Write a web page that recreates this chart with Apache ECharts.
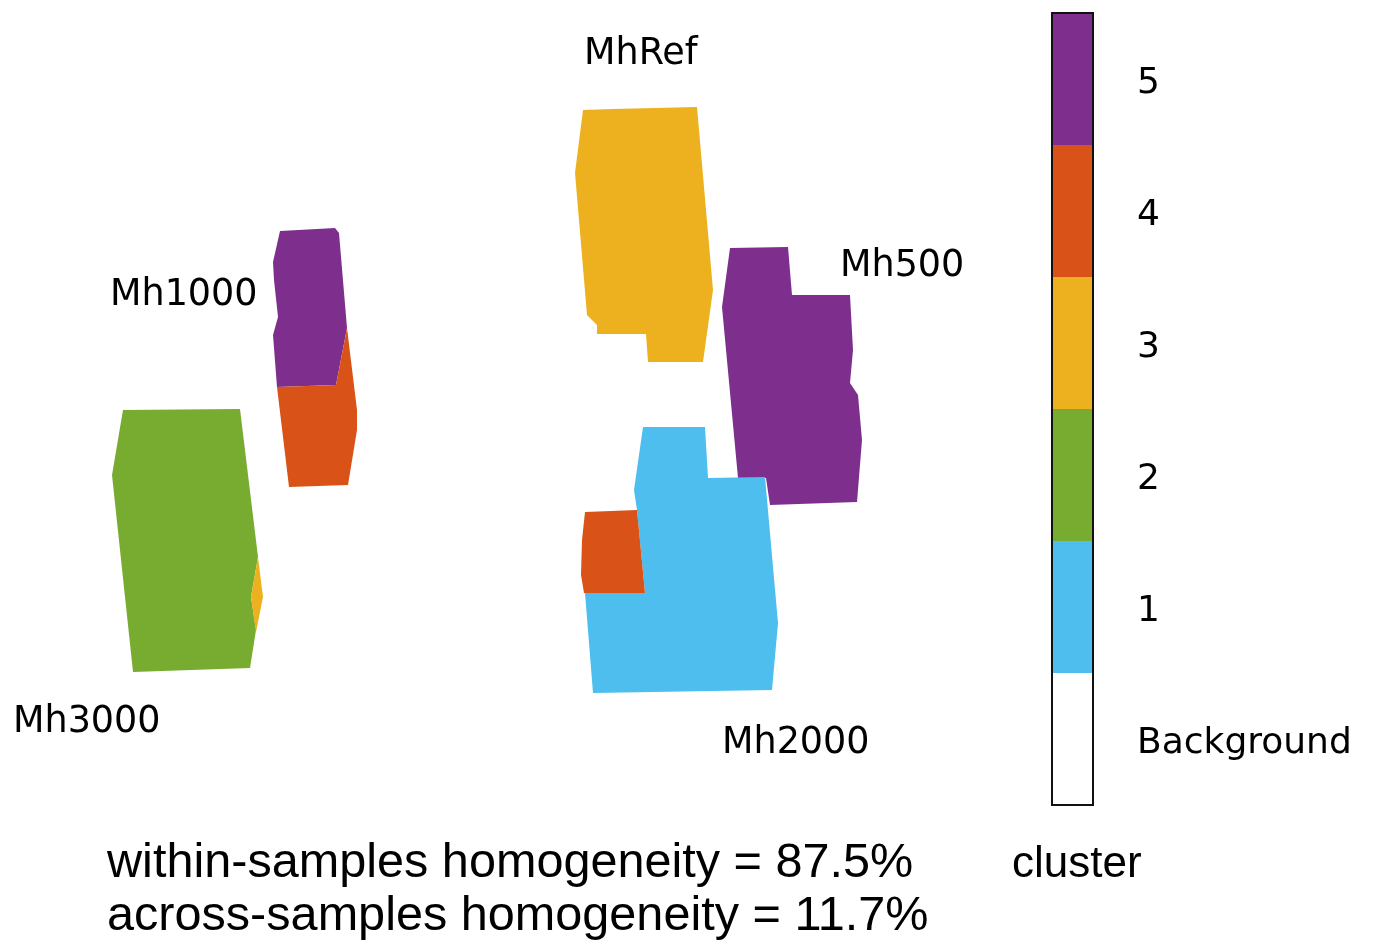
<!DOCTYPE html>
<html>
<head>
<meta charset="utf-8">
<title>Cluster map</title>
<script src="https://cdn.jsdelivr.net/npm/echarts@6/dist/echarts.min.js"></script>
<style>
  html, body { margin: 0; padding: 0; background: #fff; }
  #chart { width: 1376px; height: 942px; }
</style>
</head>
<body>
<div id="chart"></div>
<script>
// Cluster colours, index = cluster number - 1
const clusterColors = ['#4DBEEE', '#77AC30', '#EDB120', '#D95319', '#7E2F8E'];
const legendCategories = ['Background', '1', '2', '3', '4', '5'];
const legendColors = ['#FFFFFF', '#4DBEEE', '#77AC30', '#EDB120', '#D95319', '#7E2F8E'];

// Sample outlines in image-plane units (x right, y down), one per cluster patch
const mhRefC3 = [[583,110],[613,109],[697,107],[713,290],[703,362],[648,362],[646,334],[597,334],[597,325],[587,315],[575,173],[577,157]];
const mh500C5 = [[730,248],[788,247],[792,295],[850,295],[853,350],[850,383],[858,395],[862,440],[857,502],[770,505],[766,478],[738,478],[722,307]];
const mh1000C5 = [[280,231],[335,228],[339,233],[347,328],[336,385],[277,387],[273,335],[278,317],[274,280],[273,262]];
const mh1000C4 = [[277,387],[336,385],[347,328],[357,410],[357,430],[348,485],[289,487]];
const mh3000C2 = [[123,410],[240,409],[258,557],[251,597],[256,630],[250,668],[133,672],[112,475]];
const mh3000C3 = [[258,557],[263,597],[256,632],[251,597]];
const mh2000C1 = [[643,427],[705,427],[708,478],[765,477],[778,623],[772,690],[593,693],[585,593],[645,593],[637,510],[634,490]];
const mh2000C4 = [[585,512],[637,510],[645,593],[584,593],[581,575],[582,540]];

const patches = [
  { cluster: 3, outline: mhRefC3 },
  { cluster: 5, outline: mh500C5 },
  { cluster: 5, outline: mh1000C5 },
  { cluster: 4, outline: mh1000C4 },
  { cluster: 2, outline: mh3000C2 },
  { cluster: 3, outline: mh3000C3 },
  { cluster: 1, outline: mh2000C1 },
  { cluster: 4, outline: mh2000C4 }
];

// Sample names and their label anchor (left, middle)
const sampleNames = ['MhRef', 'Mh1000', 'Mh500', 'Mh3000', 'Mh2000'];
const sampleLabelX = [584, 110, 840, 13, 722];
const sampleLabelY = [55, 296, 267, 723, 744];

const summaryLines = ['within-samples homogeneity = 87.5%', 'across-samples homogeneity = 11.7%'];

const chart = echarts.init(document.getElementById('chart'));

const option = {
  backgroundColor: '#fff',
  animation: false,
  grid: [
    { left: 0, top: 0, width: 1376, height: 942, show: false },
    { left: 1052, top: 13, width: 41, height: 792, show: true,
      borderColor: '#111', borderWidth: 2, backgroundColor: 'transparent', z: 5 }
  ],
  xAxis: [
    { gridIndex: 0, type: 'value', min: 0, max: 1376, show: false },
    { gridIndex: 1, type: 'value', min: 0, max: 1, show: false }
  ],
  yAxis: [
    { gridIndex: 0, type: 'value', min: 0, max: 942, inverse: true, show: false },
    { gridIndex: 1, type: 'category', data: legendCategories, position: 'right',
      axisLine: { show: false }, axisTick: { show: false }, splitLine: { show: false },
      axisLabel: {
        show: true, margin: 42, align: 'left',
        formatter: v => '{t|' + v + '}',
        rich: { t: { color: '#000', fontSize: 36, fontFamily: 'DejaVu Sans', padding: [10, 0, 0, 2] } }
      } }
  ],
  series: [
    {
      type: 'custom',
      xAxisIndex: 0, yAxisIndex: 0,
      data: patches.map((p, i) => [i, p.cluster]),
      renderItem: function (params, api) {
        const p = patches[params.dataIndex];
        const pts = p.outline.map(pt => api.coord(pt));
        return {
          type: 'polygon',
          shape: { points: pts },
          style: { fill: clusterColors[p.cluster - 1], stroke: null }
        };
      },
      silent: true
    },
    {
      type: 'scatter',
      xAxisIndex: 0, yAxisIndex: 0,
      symbolSize: 0,
      itemStyle: { opacity: 1 },
      data: sampleNames.map((n, i) => ({ name: n, value: [sampleLabelX[i], sampleLabelY[i]] })),
      label: {
        show: true, position: 'right', distance: 0, opacity: 1,
        formatter: '{b}', color: '#000', fontSize: 36.5, fontFamily: 'DejaVu Sans'
      },
      silent: true
    },
    {
      type: 'bar',
      xAxisIndex: 1, yAxisIndex: 1,
      barWidth: '100%',
      data: legendColors.map(c => ({ value: 1, itemStyle: { color: c } })),
      silent: true
    }
  ],
  graphic: [
    { type: 'text', left: 107, top: 839,
      style: { text: summaryLines[0], fill: '#000', fontSize: 48.6, fontFamily: 'Liberation Sans' } },
    { type: 'text', left: 107, top: 892,
      style: { text: summaryLines[1], fill: '#000', fontSize: 48.6, fontFamily: 'Liberation Sans' } },
    { type: 'text', left: 1012, top: 843,
      style: { text: 'cluster', fill: '#000', fontSize: 44, fontFamily: 'Liberation Sans' } }
  ]
};

chart.setOption(option);
</script>
</body>
</html>
